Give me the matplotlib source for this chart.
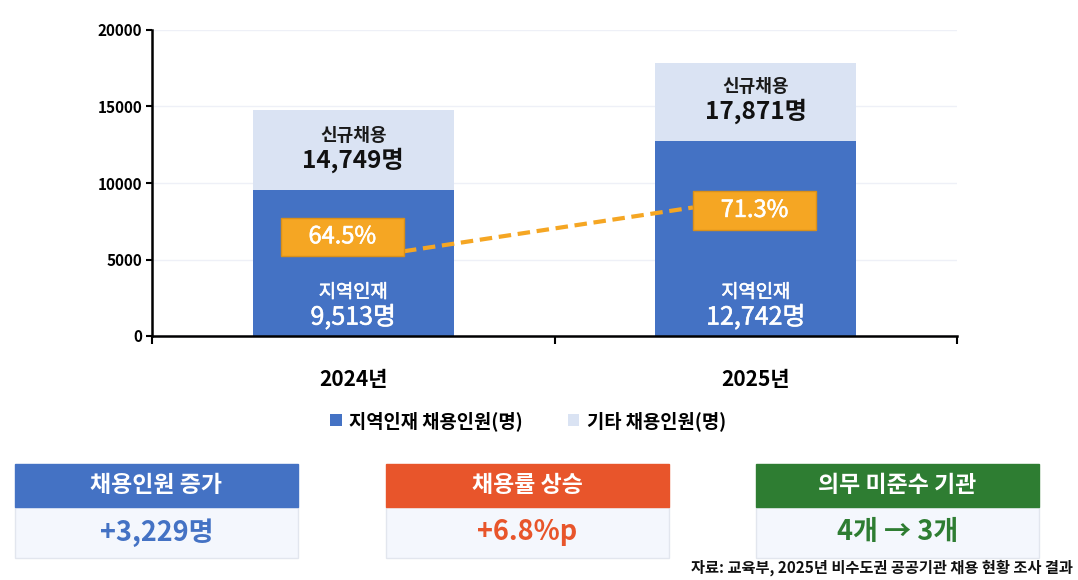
import matplotlib
matplotlib.use("Agg")
import matplotlib.pyplot as plt
import matplotlib.patheffects as pe
from matplotlib.patches import Rectangle

plt.rcParams['font.family'] = ['Noto Sans CJK KR', 'DejaVu Sans']

years = ["2024년", "2025년"]
local_hires = [9513, 12742]
total_hires = [14749, 17871]
local_rates = ["64.5%", "71.3%"]

card_titles = ["채용인원 증가", "채용률 상승", "의무 미준수 기관"]
card_values = ["+3,229명", "+6.8%p", "4개 → 3개"]
card_colors = ["#4472C4", "#E8552B", "#2E7D32"]

source = "자료: 교육부, 2025년 비수도권 공공기관 채용 현황 조사 결과"

BLUE = "#4472C4"
LIGHT = "#DAE3F3"
ORANGE = "#F5A623"


def main():
    W, H = 1078, 580
    fig = plt.figure(figsize=(W / 100, H / 100), dpi=100)

    # main chart axes in pixel layout
    left, right, top, bottom = 152, 957, 30, 336
    ax = fig.add_axes([left / W, 1 - bottom / H, (right - left) / W, (bottom - top) / H])

    x = [0.5, 1.5]
    other = [t - l for t, l in zip(total_hires, local_hires)]
    ax.bar(x, local_hires, width=0.5, color=BLUE, zorder=2, label="지역인재 채용인원(명)")
    ax.bar(x, other, width=0.5, bottom=local_hires, color=LIGHT, zorder=2, label="기타 채용인원(명)")

    ax.set_xlim(0, 2)
    ax.set_ylim(0, 20000)
    ax.set_yticks(range(0, 20001, 5000))
    ax.set_yticklabels([str(v) for v in range(0, 20001, 5000)], fontsize=11, fontweight='bold')
    ax.grid(axis='y', color="#EEF0F7", lw=1, zorder=0)
    ax.tick_params(axis='y', length=4, width=1.5, pad=3)

    ax.set_xticks([0, 1, 2])
    ax.set_xticklabels(["", "", ""])
    ax.tick_params(axis='x', which='major', length=6, width=1.5)
    ax.set_xticks(x, minor=True)
    ax.set_xticklabels(years, minor=True, fontsize=15, fontweight='bold')
    ax.tick_params(axis='x', which='minor', length=0, pad=24)

    for s in ['top', 'right']:
        ax.spines[s].set_visible(False)
    for s in ['left', 'bottom']:
        ax.spines[s].set_linewidth(1.8)
        ax.spines[s].set_zorder(3)

    # slightly heavier white text (regular weight looks too thin)
    thick = [pe.withStroke(linewidth=0.4, foreground="white")]

    # labels inside bars
    for xi, loc, tot in zip(x, local_hires, total_hires):
        mid = (loc + tot) / 2
        ax.annotate("신규채용", (xi, mid), xytext=(0, 11), textcoords='offset points',
                    ha='center', va='center', fontsize=13, fontweight='bold', color="#1a1a1a", zorder=4)
        ax.annotate(f"{tot:,}명", (xi, mid), xytext=(0, -7), textcoords='offset points',
                    ha='center', va='center', fontsize=17.5, fontweight='bold', color="#111111", zorder=4)
        ax.text(xi, 2870, "지역인재", ha='center', va='center', fontsize=13.5,
                color="white", zorder=4, path_effects=thick)
        ax.text(xi, 1200, f"{loc:,}명", ha='center', va='center', fontsize=18,
                color="white", zorder=4, path_effects=thick)

    # rate boxes and dashed connector
    box_x = [0.473, 1.497]
    box_y = [6480, 8208]
    bw, bh = 0.306, 2500
    for bx, by, rate in zip(box_x, box_y, local_rates):
        ax.add_patch(Rectangle((bx - bw / 2, by - bh / 2), bw, bh, facecolor=ORANGE,
                               edgecolor="#D9901A", lw=1, zorder=5))
        ax.text(bx, by, rate, ha='center', va='center', fontsize=17,
                color="white", zorder=6, path_effects=thick)
    ax.plot([box_x[0] + bw / 2, box_x[1] - bw / 2], [5540, 8400], color=ORANGE,
            lw=3, ls=(0, (3, 1.6)), zorder=4)

    # legend
    fig.legend(loc='center', bbox_to_anchor=(0.49, 1 - 421 / H), ncol=2, frameon=False,
               handlelength=0.6, handleheight=0.6, handletextpad=0.4, columnspacing=2.4,
               prop={'size': 13.5, 'weight': 'bold'})

    # summary cards in pixel coords
    ov = fig.add_axes([0, 0, 1, 1])
    ov.set_xlim(0, W)
    ov.set_ylim(H, 0)
    ov.axis('off')
    cw, hh, bhh = 283, 43, 51
    top_y = 464
    for i, (title, val, col) in enumerate(zip(card_titles, card_values, card_colors)):
        cx = 15 + i * 370.5
        ov.add_patch(Rectangle((cx, top_y + hh), cw, bhh, facecolor="#F4F7FD",
                               edgecolor="#E2E6EE", lw=1))
        ov.add_patch(Rectangle((cx, top_y), cw, hh, facecolor=col, edgecolor=col, lw=1))
        ov.text(cx + cw / 2, top_y + hh / 2, title, ha='center', va='center',
                fontsize=16.5, fontweight='bold', color="white")
        ov.text(cx + cw / 2, top_y + hh + bhh / 2, val, ha='center', va='center',
                fontsize=19.5, fontweight='bold', color=col)

    ov.text(1073, 568, source, ha='right', va='center', fontsize=11, fontweight='bold',
            color="#111111")

    fig.savefig("out.png", dpi=100)


if __name__ == "__main__":
    main()
